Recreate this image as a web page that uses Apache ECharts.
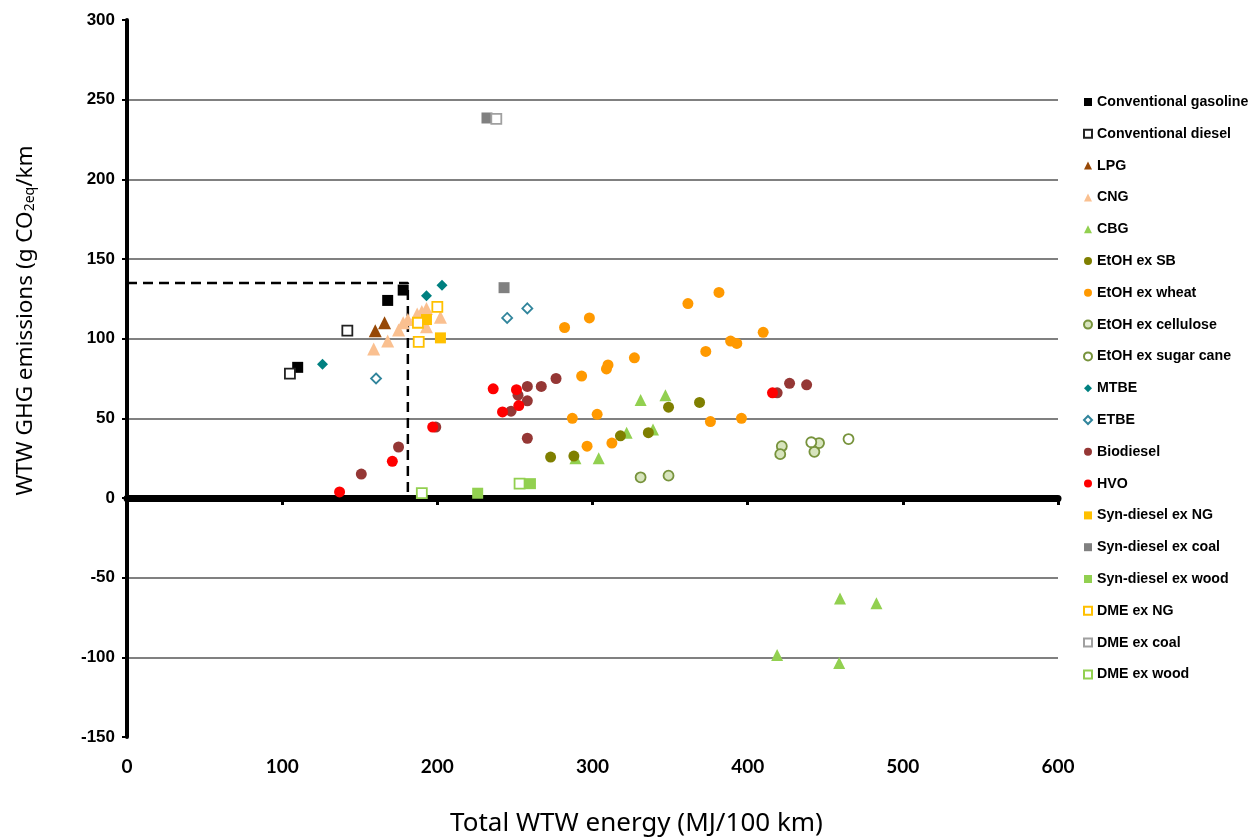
<!DOCTYPE html>
<html>
<head>
<meta charset="utf-8">
<script src="https://cdn.jsdelivr.net/npm/echarts@6/dist/echarts.min.js"></script>
<style>
  html, body { margin: 0; padding: 0; background: #fff; }
  #chart { width: 1256px; height: 838px; }
</style>
</head>
<body>
<div id="chart"></div>
<script>
// values: [total WTW energy, WTW GHG]
const conventionalGasoline = [[110, 82], [168, 124], [178, 130.5]];
const conventionalDiesel = [[105, 78], [142, 105]];
const lpg = [[160, 105], [166, 110]];
const cng = [[159, 93.5], [168, 98.5], [175, 105.5], [178, 110], [181, 112], [187, 115.5], [190, 117], [193, 119], [193, 107.5], [202, 113.5]];
const cbg = [[289, 25], [304, 25], [322, 41], [339, 43], [331, 61.5], [347, 64.5], [419, -98.5], [459, -103.5], [459.5, -63], [483, -66]];
const etohSB = [[273, 25.7], [288, 26.3], [318, 39], [336, 41], [349, 57], [369, 60]];
const etohWheat = [[282, 107], [298, 113], [361.5, 122], [381.5, 129], [410, 104], [389, 98.5], [393, 97], [373, 92], [376, 48], [396, 50], [293, 76.5], [309, 81], [310, 83.5], [327, 88], [287, 50], [303, 52.5], [296.5, 32.5], [312.5, 34.5]];
const etohCellulose = [[331, 13], [349, 14], [422, 32.5], [421, 27.5], [446, 34.5], [443, 29]];
const etohSugarCane = [[441, 35], [465, 37]];
const mtbe = [[126, 84], [193, 127], [203, 133.5]];
const etbe = [[160.5, 75], [245, 113], [258, 119]];
const biodiesel = [[151, 15], [175, 32], [199, 44.5], [258, 70], [267, 70], [276.5, 75], [252, 64.5], [258, 61], [247.5, 54.5], [258, 37.5], [427, 72], [438, 71], [419, 66]];
const hvo = [[137, 3.8], [171, 23], [197, 44.5], [236, 68.5], [251, 68], [252.5, 58], [242, 54], [416, 66]];
const synDieselNG = [[193, 112], [202, 100.5]];
const synDieselCoal = [[232, 238.5], [243, 132]];
const synDieselWood = [[226, 3], [260, 9]];
const dmeNG = [[187.5, 110], [200, 120], [188, 98]];
const dmeCoal = [[238, 238]];
const dmeWood = [[190, 3], [253, 9]];
// dashed reference: conventional gasoline level
const referencePath = [[0, 135], [181, 135], [181, 0]];

const chart = echarts.init(document.getElementById("chart"));

function scatter(name, data, symbol, size, fill, border) {
  return {
    name: name,
    type: "scatter",
    data: data,
    symbol: symbol,
    symbolSize: size,
    itemStyle: border
      ? { color: fill, borderColor: border, borderWidth: 1.8, opacity: 1 }
      : { color: fill, opacity: 1 },
    emphasis: { disabled: true }
  };
}

const series = [
  scatter("Conventional gasoline", conventionalGasoline, "rect", 11, "#000"),
  scatter("Conventional diesel", conventionalDiesel, "rect", 10, "#fff", "#222"),
  scatter("LPG", lpg, "triangle", 13, "#974806"),
  scatter("CNG", cng, "triangle", 13, "#fac090"),
  scatter("CBG", cbg, "triangle", 12, "#92d050"),
  scatter("EtOH ex SB", etohSB, "circle", 11, "#7f7f00"),
  scatter("EtOH ex wheat", etohWheat, "circle", 11, "#ff9900"),
  scatter("EtOH ex cellulose", etohCellulose, "circle", 10, "#d7e4bd", "#77933c"),
  scatter("EtOH ex sugar cane", etohSugarCane, "circle", 10, "#fff", "#77933c"),
  scatter("MTBE", mtbe, "diamond", 11, "#008080"),
  scatter("ETBE", etbe, "diamond", 10, "#fff", "#31859c"),
  scatter("Biodiesel", biodiesel, "circle", 11, "#953735"),
  scatter("HVO", hvo, "circle", 11, "#ff0000"),
  scatter("Syn-diesel ex NG", synDieselNG, "rect", 11, "#ffc000"),
  scatter("Syn-diesel ex coal", synDieselCoal, "rect", 11, "#808080"),
  scatter("Syn-diesel ex wood", synDieselWood, "rect", 11, "#92d050"),
  scatter("DME ex NG", dmeNG, "rect", 10, "#fff", "#ffc000"),
  scatter("DME ex coal", dmeCoal, "rect", 10, "#fff", "#a0a0a0"),
  scatter("DME ex wood", dmeWood, "rect", 10, "#fff", "#92d050")
];

series.unshift({
  name: "reference",
  type: "line",
  data: referencePath,
  symbol: "none",
  silent: true,
  lineStyle: { color: "#000", width: 2.5, type: [10, 6] },
  z: 1
});

chart.setOption({
  animation: false,
  grid: { left: 127, right: 198, top: 20, bottom: 101, outerBoundsMode: "none" },
  legend: {
    data: series.slice(1).map(function (s) { return s.name; }),
    orient: "vertical",
    left: 1078,
    top: 90,
    itemWidth: 8,
    itemHeight: 8,
    itemGap: 17.8,
    textStyle: { fontFamily: "Liberation Sans", fontWeight: "bold", fontSize: 14.2, color: "#000" },
    selectedMode: false
  },
  xAxis: [
    {
      type: "value",
      min: 0,
      max: 600,
      interval: 100,
      axisLine: { onZero: true, lineStyle: { color: "#000", width: 7 } },
      axisTick: { show: true, length: 7, lineStyle: { color: "#000", width: 3 } },
      axisLabel: { show: false },
      splitLine: { show: false }
    },
    {
      type: "value",
      min: 0,
      max: 600,
      interval: 100,
      position: "bottom",
      axisLine: { show: false, onZero: false },
      axisTick: { show: false },
      axisLabel: { margin: 20, fontFamily: "Lato", fontWeight: "bold", fontSize: 19, color: "#000" },
      splitLine: { show: false },
      name: "Total WTW energy (MJ/100 km)",
      nameLocation: "middle",
      nameGap: 74,
      nameTextStyle: { fontFamily: "Noto Sans", fontSize: 26, color: "#000", padding: [0, 0, 0, 88] }
    }
  ],
  yAxis: {
    type: "value",
    min: -150,
    max: 300,
    interval: 50,
    axisLine: { show: true, lineStyle: { color: "#000", width: 4 } },
    axisTick: { show: true, length: 5, lineStyle: { color: "#000", width: 2 } },
    axisLabel: { margin: 12, fontFamily: "Liberation Sans", fontWeight: "bold", fontSize: 17, color: "#000" },
    splitLine: { show: true, showMinLine: false, showMaxLine: false, lineStyle: { color: "#808080", width: 2 } },
    name: "{a|WTW GHG emissions (g CO}{s|2eq}{a|/km}",
    nameLocation: "middle",
    nameRotate: 90,
    nameGap: 90,
    nameTextStyle: {
      padding: [0, 0, 0, 116],
      rich: {
        a: { fontFamily: "Noto Sans", fontSize: 22.5, color: "#000" },
        s: { fontFamily: "Noto Sans", fontSize: 14, color: "#000", verticalAlign: "bottom", padding: [9, 0, 0, 0] }
      }
    }
  },
  series: series
});
</script>
</body>
</html>
